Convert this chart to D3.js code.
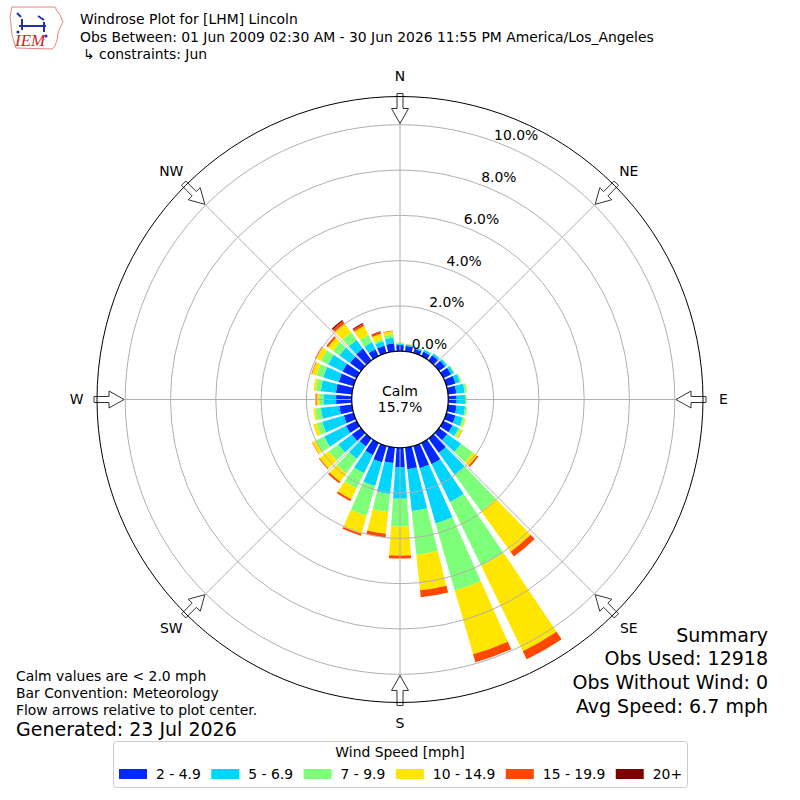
<!DOCTYPE html>
<html><head><meta charset="utf-8">
<script src="https://cdn.jsdelivr.net/npm/d3@7/dist/d3.min.js"></script>
<style>body{margin:0;background:#fff} svg text{font-family:"DejaVu Sans",sans-serif;fill:#000}</style>
</head><body><svg id="c" width="800" height="800"></svg>
<script>
// ---------------- data ----------------
const directions = [0,10,20,30,40,50,60,70,80,90,100,110,120,130,140,150,160,170,180,190,200,210,220,230,240,250,260,270,280,290,300,310,320,330,340,350];
const speedBins = ["2 - 4.9","5 - 6.9","7 - 9.9","10 - 14.9","15 - 19.9","20+"];
const binColors = ["#0028ff","#00d4ff","#7dff7a","#ffe600","#ff4700","#800000"];
// frequency (%) per direction for each speed bin
const bin2to5   = [0.27,0.24,0.20,0.22,0.28,0.33,0.38,0.42,0.37,0.37,0.38,0.42,0.45,0.45,0.78,1.05,1.02,0.96,0.86,0.69,0.75,0.60,0.43,0.50,0.52,0.45,0.56,0.69,0.71,0.68,0.69,0.60,0.65,0.34,0.34,0.36];
const bin5to7   = [0.06,0.07,0.06,0.09,0.10,0.10,0.13,0.20,0.37,0.37,0.38,0.33,0.30,0.75,1.19,1.85,2.54,1.86,1.39,1.37,1.09,0.89,0.68,0.74,1.08,0.99,0.82,0.56,0.67,0.71,0.71,0.58,0.47,0.34,0.20,0.25];
const bin7to10  = [0.03,0.02,0.02,0.02,0.02,0.03,0.03,0.05,0.09,0.06,0.08,0.10,0.10,0.65,1.99,3.14,3.09,1.94,1.23,0.80,1.37,0.75,0.78,0.51,0.40,0.26,0.25,0.19,0.22,0.31,0.35,0.35,0.41,0.36,0.11,0.15];
const bin10to15 = [0.03,0.01,0.00,0.00,0.00,0.00,0.01,0.02,0.02,0.02,0.02,0.05,0.08,0.22,2.21,4.19,2.92,1.58,1.28,0.97,0.82,0.53,0.46,0.51,0.17,0.16,0.09,0.11,0.11,0.21,0.25,0.27,0.49,0.44,0.24,0.15];
const bin15to20 = [0,0,0,0,0,0,0,0,0,0,0,0,0.02,0.08,0.26,0.40,0.37,0.31,0.13,0.16,0.09,0.09,0.09,0.04,0.02,0,0,0.05,0,0.03,0.04,0.09,0.13,0.10,0.09,0.02];
const bin20plus = [0,0,0,0,0,0,0,0,0,0,0,0,0,0,0,0,0,0,0,0,0,0,0,0,0,0,0,0,0,0,0,0,0.06,0.04,0.02,0];
const seriesValues = [bin2to5,bin5to7,bin7to10,bin10to15,bin15to20,bin20plus];

const ringTicks = [0,2,4,6,8,10];
const compassLabels = ["N","NE","E","SE","S","SW","W","NW"];
const compassAngles = [0,45,90,135,180,225,270,315];
const calmPct = "15.7%";
const titleLines = ["Windrose Plot for [LHM] Lincoln",
  "Obs Between: 01 Jun 2009 02:30 AM - 30 Jun 2026 11:55 PM America/Los_Angeles",
  "\u21b3 constraints: Jun"];
const noteLines = ["Calm values are < 2.0 mph","Bar Convention: Meteorology","Flow arrows relative to plot center."];
const generatedText = "Generated: 23 Jul 2026";
const summaryLines = ["Summary","Obs Used: 12918","Obs Without Wind: 0","Avg Speed: 6.7 mph"];
const legendTitle = "Wind Speed [mph]";

// ---------------- layout ----------------
const cx = 400, cy = 399.5, r0 = 48.3, R = 303, pxPerPct = 22.65;
const rMax = (R - r0) / pxPerPct;
const svg = d3.select("#c");
const rs = d3.scaleLinear().domain([0, rMax]).range([r0, R]);
const rad = d => d * Math.PI / 180;
const polar = (deg, r) => [cx + r * Math.sin(rad(deg)), cy - r * Math.cos(rad(deg))];

const g = svg.append("g").attr("transform", `translate(${cx},${cy})`);

// stacked data
const stacks = [];
directions.forEach((dir, i) => {
  let acc = 0;
  seriesValues.forEach((arr, b) => {
    const v = arr[i];
    if (v > 0) stacks.push({dir, b, y0: acc, y1: acc + v});
    acc += v;
  });
});
const halfW = 4; // degrees (opening 0.8 of 10°)
const arc = d3.arc()
  .innerRadius(d => rs(d.y0)).outerRadius(d => rs(d.y1))
  .startAngle(d => rad(d.dir - halfW)).endAngle(d => rad(d.dir + halfW));
g.selectAll("path.bar").data(stacks).join("path").attr("class","bar")
  .attr("d", arc).attr("fill", d => binColors[d.b]);

// grid rings (above bars, like matplotlib)
g.selectAll("circle.ring").data(ringTicks.filter(t => t > 0)).join("circle")
  .attr("r", d => rs(d)).attr("fill","none").attr("stroke","#b0b0b0").attr("stroke-width",1);
g.selectAll("line.spoke").data(compassAngles).join("line")
  .attr("x1", d => rs(0) * Math.sin(rad(d))).attr("y1", d => -rs(0) * Math.cos(rad(d)))
  .attr("x2", d => R * Math.sin(rad(d))).attr("y2", d => -R * Math.cos(rad(d)))
  .attr("stroke","#b0b0b0").attr("stroke-width",1);

// calm circle
g.append("circle").attr("r", rs(0)).attr("fill","#fff").attr("stroke","#000").attr("stroke-width",1.3);
g.append("text").attr("x",0).attr("y",-3.5).attr("text-anchor","middle").style("font-size","14px").text("Calm");
g.append("text").attr("x",0).attr("y",12.5).attr("text-anchor","middle").style("font-size","14px").text(calmPct);

// ring labels
ringTicks.forEach(t => {
  const [x, y] = polar(22.5, rs(t));
  svg.append("text").attr("x", x + 11).attr("y", y - 10.5).attr("dy","0.35em")
    .attr("text-anchor","middle").style("font-size","13.9px").text(t.toFixed(1) + "%");
});

// flow arrows
const arrowShape = [[306,-3],[291,-3],[291,-8.5],[276,0],[291,8.5],[291,3],[306,3]];
compassAngles.forEach(a => {
  const pts = arrowShape.map(([u, w]) => {
    const x = u * Math.sin(rad(a)) + w * Math.cos(rad(a));
    const y = -u * Math.cos(rad(a)) + w * Math.sin(rad(a));
    return [x, y];
  });
  g.append("path").attr("d", d3.line()(pts) + "Z")
    .attr("fill","#fff").attr("stroke","#333").attr("stroke-width",1).attr("stroke-linejoin","miter");
});
// outer circle
g.append("circle").attr("r", R).attr("fill","none").attr("stroke","#000").attr("stroke-width",1);

// compass labels
compassLabels.forEach((lab, i) => {
  const [x, y] = polar(compassAngles[i], 323.5);
  svg.append("text").attr("x", x).attr("y", y).attr("dy","0.35em").attr("text-anchor","middle")
    .style("font-size","13.9px").text(lab);
});

// title
titleLines.forEach((t, i) => {
  svg.append("text").attr("x", i === 2 ? 83 : 80).attr("y", 24 + i * 17.5)
    .style("font-size","13.9px").text(t);
});

// notes bottom-left
noteLines.forEach((t, i) => {
  svg.append("text").attr("x", 16).attr("y", 681 + i * 17).style("font-size","13.9px").text(t);
});
svg.append("text").attr("x", 16).attr("y", 736).style("font-size","19px").text(generatedText);

// summary bottom-right
summaryLines.forEach((t, i) => {
  svg.append("text").attr("x", 768).attr("y", 641.5 + i * 23.7).attr("text-anchor","end")
    .style("font-size","19px").text(t);
});

// legend
const lg = svg.append("g");
lg.append("rect").attr("x",113.5).attr("y",741.5).attr("width",574).attr("height",46).attr("rx",3)
  .attr("fill","#fff").attr("stroke","#cccccc").attr("stroke-width",1);
lg.append("text").attr("x",400).attr("y",757).attr("text-anchor","middle").style("font-size","13.9px").text(legendTitle);
let xc = 119;
speedBins.forEach((lab, i) => {
  lg.append("rect").attr("x", xc).attr("y", 769).attr("width", 28).attr("height", 10).attr("fill", binColors[i]);
  const t = lg.append("text").attr("x", xc + 37).attr("y", 779).style("font-size","13.9px").text(lab);
  xc += 37 + t.node().getComputedTextLength() + 10.5;
});

// IEM logo (approximation)
const logo = svg.append("g");
logo.append("path").attr("d","M12,7 L55,7 L57,11 L60,15 L63,22 L60,28 L58,33 L57,40 L55,46 L52,49 L16,48 L14,42 L12,35 L11,25 L10,16 Z")
  .attr("fill","#fff").attr("stroke","#f08080").attr("stroke-width",1);
logo.append("path").attr("d","M19,26 L46,26 M22,19 L22,30 M44,22 L44,32 M17,13 L21,17 M38,16 L44,20")
  .attr("stroke","#2030b0").attr("stroke-width",2).attr("fill","none");
logo.append("circle").attr("cx",18).attr("cy",32).attr("r",1.6).attr("fill","#2030b0");
logo.append("circle").attr("cx",46).attr("cy",36).attr("r",1.6).attr("fill","#2030b0");
logo.append("text").attr("x",15).attr("y",46).style("font-family","'Liberation Serif',serif")
  .style("font-style","italic").style("font-size","17px").style("fill","#d42020").text("IEM");
</script></body></html>
